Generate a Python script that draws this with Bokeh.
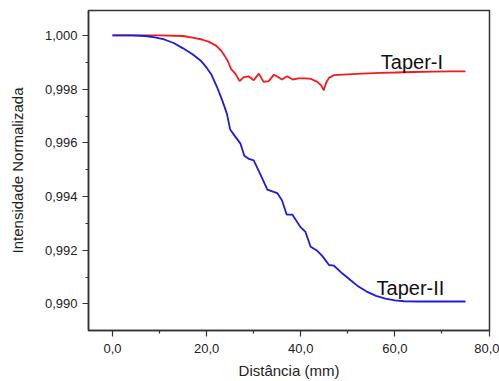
from bokeh.plotting import figure
from bokeh.models import FixedTicker, Range1d, Label
from bokeh.embed import file_html
from bokeh.resources import INLINE

# Data
x_taper1 = [0, 5, 10, 15, 17, 19, 20.5, 22, 23, 23.8, 24.5, 25.2, 26.1, 27.0, 27.9,
            28.9, 30.0, 31.1, 32.1, 33.2, 34.3, 35.2, 36.0, 37.1, 38.3, 39.5, 41,
            42.2, 43.5, 44.3, 44.9, 45.4, 46.0, 47.0, 50, 53, 57, 60, 64, 68, 72, 75]
y_taper1 = [1.0, 1.0, 1.0, 0.99998, 0.99992, 0.99985, 0.99976, 0.99962, 0.99945,
            0.99925, 0.99905, 0.99875, 0.99858, 0.99830, 0.99845, 0.99848, 0.99833,
            0.99858, 0.99827, 0.99830, 0.99854, 0.99845, 0.99836, 0.99848, 0.99836,
            0.99840, 0.99840, 0.99838, 0.99827, 0.99815, 0.99796, 0.99825, 0.99842,
            0.99852, 0.99855, 0.99858, 0.99861, 0.99862, 0.99864, 0.99865, 0.99866,
            0.99866]

x_taper2 = [0, 4, 7, 9, 11, 13, 15, 17, 18.7, 20, 21, 22.2, 23.3, 24.3, 25.0, 26,
            27.2, 28.0, 29, 30.0, 31.5, 32.9, 35.0, 36.0, 37.0, 38.2, 39.9, 41.0,
            42.1, 43.5, 44.6, 46.0, 47.0, 48.8, 50.6, 52, 54, 56, 58, 60, 62, 65,
            68, 72, 75]
y_taper2 = [1.0, 1.0, 0.99998, 0.99993, 0.99985, 0.99972, 0.99952, 0.99930, 0.99907,
            0.99880, 0.99855, 0.99808, 0.99759, 0.99709, 0.99650, 0.99625, 0.99597,
            0.99552, 0.99540, 0.99535, 0.99480, 0.99426, 0.99413, 0.99386, 0.99333,
            0.99333, 0.99287, 0.99268, 0.99213, 0.99198, 0.99178, 0.99145, 0.99143,
            0.99114, 0.99088, 0.99068, 0.99046, 0.99030, 0.99020, 0.99013, 0.99010,
            0.99009, 0.99009, 0.99009, 0.99009]

x_ticks = [0, 20, 40, 60, 80]
x_tick_labels = ["0,0", "20,0", "40,0", "60,0", "80,0"]
x_minor_ticks = [10, 30, 50, 70]
y_ticks = [0.990, 0.992, 0.994, 0.996, 0.998, 1.000]
y_tick_labels = ["0,990", "0,992", "0,994", "0,996", "0,998", "1,000"]
y_minor_ticks = [0.989, 0.991, 0.993, 0.995, 0.997, 0.999]

series_labels = ["Taper-I", "Taper-II"]
label_x = [57.0, 56.1]
label_y = [0.99900, 0.99061]

FONT = "Liberation Sans"
AXC = "#333333"

p = figure(width=499, height=381, output_backend="svg", toolbar_location=None,
           x_range=Range1d(-5.1, 80.1), y_range=Range1d(0.98901, 1.00093),
           min_border_left=88, min_border_right=10, min_border_top=10,
           min_border_bottom=50)

p.line(x_taper1, y_taper1, line_color="#f21a1a", line_width=1.8)
p.line(x_taper2, y_taper2, line_color="#1c1cdc", line_width=1.8)

for t, lx, ly in zip(series_labels, label_x, label_y):
    p.add_layout(Label(x=lx, y=ly, text=t, text_font=FONT, text_font_size="20px",
                       text_color="#111111", text_baseline="alphabetic"))

p.xgrid.visible = False
p.ygrid.visible = False
p.outline_line_color = AXC
p.outline_line_width = 1.5
p.outline_line_alpha = 1.0

p.xaxis.ticker = FixedTicker(ticks=x_ticks, minor_ticks=x_minor_ticks)
p.yaxis.ticker = FixedTicker(ticks=y_ticks, minor_ticks=y_minor_ticks)
p.xaxis.major_label_overrides = dict(zip(x_ticks, x_tick_labels))
p.yaxis.major_label_overrides = dict(zip(y_ticks, y_tick_labels))

for ax in (p.xaxis, p.yaxis):
    ax.axis_line_color = AXC
    ax.axis_line_width = 1.5
    ax.major_tick_line_color = AXC
    ax.minor_tick_line_color = AXC
    ax.major_tick_line_width = 1.2
    ax.minor_tick_line_width = 1.2
    ax.major_tick_in = 0
    ax.major_tick_out = 6
    ax.minor_tick_in = 0
    ax.minor_tick_out = 3
    ax.major_label_text_font = FONT
    ax.major_label_text_font_size = "13px"
    ax.major_label_text_color = "#222222"
    ax.axis_label_text_font = FONT
    ax.axis_label_text_font_size = "15px"
    ax.axis_label_text_font_style = "normal"
    ax.axis_label_text_color = "#222222"

p.xaxis.axis_label = "Distância (mm)"
p.yaxis.axis_label = "Intensidade Normalizada"
p.xaxis.major_label_standoff = 7
p.xaxis.axis_label_standoff = 6
p.yaxis.major_label_standoff = 5
p.yaxis.axis_label_standoff = 16

open("out.html", "w").write(file_html(p, INLINE))
